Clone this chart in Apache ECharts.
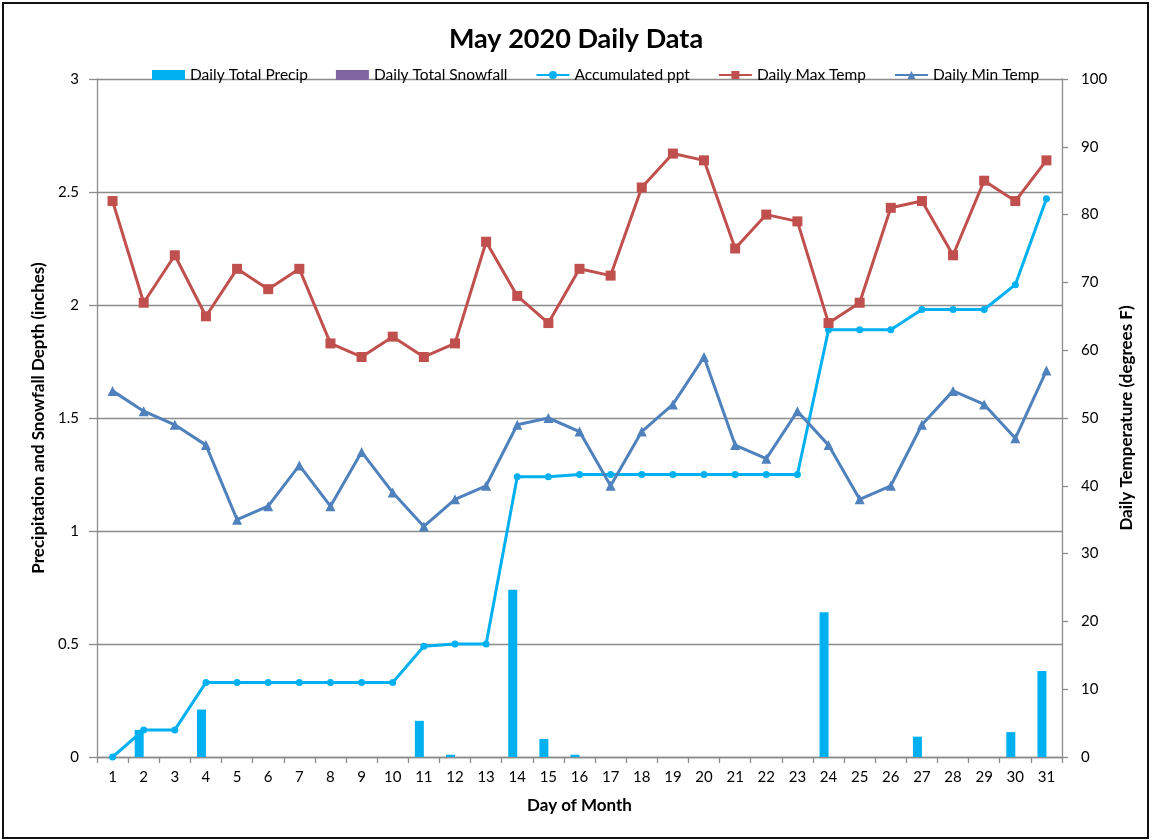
<!DOCTYPE html>
<html>
<head>
<meta charset="utf-8">
<script src="https://cdn.jsdelivr.net/npm/echarts@6/dist/echarts.min.js"></script>
<style>
html,body{margin:0;padding:0;background:#fff;}
#chart{width:1152px;height:840px;}
</style>
</head>
<body>
<div id="chart"></div>
<script>
const days = ['1','2','3','4','5','6','7','8','9','10','11','12','13','14','15','16','17','18','19','20','21','22','23','24','25','26','27','28','29','30','31'];
const dailyPrecip = [0,0.12,0,0.21,0,0,0,0,0,0,0.16,0.01,0,0.74,0.08,0.01,0,0,0,0,0,0,0,0.64,0,0,0.09,0,0,0.11,0.38];
const dailySnowfall = [0,0,0,0,0,0,0,0,0,0,0,0,0,0,0,0,0,0,0,0,0,0,0,0,0,0,0,0,0,0,0];
const accumPpt = [0,0.12,0.12,0.33,0.33,0.33,0.33,0.33,0.33,0.33,0.49,0.50,0.50,1.24,1.24,1.25,1.25,1.25,1.25,1.25,1.25,1.25,1.25,1.89,1.89,1.89,1.98,1.98,1.98,2.09,2.47];
const maxTemp = [82,67,74,65,72,69,72,61,59,62,59,61,76,68,64,72,71,84,89,88,75,80,79,64,67,81,82,74,85,82,88];
const minTemp = [54,51,49,46,35,37,43,37,45,39,34,38,40,49,50,48,40,48,52,59,46,44,51,46,38,40,49,54,52,47,57];

const FONT = 'Lato, "Open Sans", sans-serif';
const chart = echarts.init(document.getElementById('chart'));
const axisLineStyle = {color:'#8c8c8c', width:1.3};
chart.setOption({
  animation:false,
  backgroundColor:'#fff',
  graphic:[{type:'rect', shape:{x:3,y:3,width:1145,height:835}, style:{fill:'none', stroke:'#111', lineWidth:2}, silent:true}],
  title:{text:'May 2020 Daily Data', left:'center', top:21, textStyle:{fontFamily:FONT, fontSize:27, fontWeight:'bold', color:'#000'}},
  legend:{top:62, left:147, itemGap:28, itemWidth:33, itemHeight:10, textStyle:{fontFamily:FONT, fontSize:15.5, color:'#000'},
    data:[{name:'Daily Total Precip', icon:'rect'},{name:'Daily Total Snowfall', icon:'rect'},'Accumulated ppt','Daily Max Temp','Daily Min Temp']},
  grid:{left:97, right:90, top:79, bottom:83},
  xAxis:{type:'category', data:days, boundaryGap:true,
    name:'Day of Month', nameLocation:'middle', nameGap:40, nameTextStyle:{fontFamily:FONT, fontSize:17, fontWeight:'bold', color:'#000'},
    axisLine:{lineStyle:axisLineStyle}, axisTick:{show:true, alignWithLabel:false, length:6, lineStyle:axisLineStyle},
    axisLabel:{fontFamily:FONT, fontSize:15, color:'#000', margin:13, interval:0}},
  yAxis:[{type:'value', min:0, max:3, interval:0.5, position:'left',
      name:'Precipitation and Snowfall Depth (inches)', nameLocation:'middle', nameGap:49, nameRotate:90,
      nameTextStyle:{fontFamily:FONT, fontSize:17, fontWeight:'bold', color:'#000'},
      axisLine:{show:true, lineStyle:axisLineStyle}, axisTick:{show:true, length:8, lineStyle:axisLineStyle},
      axisLabel:{fontFamily:FONT, fontSize:15, color:'#000', margin:18},
      splitLine:{show:true, lineStyle:{color:'#8c8c8c', width:1.3}}},
    {type:'value', min:0, max:100, interval:10, position:'right',
      name:'Daily Temperature (degrees F)', nameLocation:'middle', nameGap:56, nameRotate:90,
      nameTextStyle:{fontFamily:FONT, fontSize:17, fontWeight:'bold', color:'#000'},
      axisLine:{show:true, lineStyle:axisLineStyle}, axisTick:{show:true, length:6, lineStyle:axisLineStyle},
      axisLabel:{fontFamily:FONT, fontSize:15, color:'#000', margin:19},
      splitLine:{show:false}}],
  series:[
    {name:'Daily Total Precip', type:'bar', data:dailyPrecip, barWidth:9, barGap:'0%', itemStyle:{color:'#00B0F0'}, yAxisIndex:0},
    {name:'Daily Total Snowfall', type:'bar', data:dailySnowfall, barWidth:9, itemStyle:{color:'#8064A2'}, yAxisIndex:0},
    {name:'Accumulated ppt', type:'line', data:accumPpt, yAxisIndex:0, symbol:'circle', symbolSize:7, lineStyle:{color:'#00B0F0', width:3}, itemStyle:{color:'#00B0F0'}},
    {name:'Daily Max Temp', type:'line', data:maxTemp, yAxisIndex:1, symbol:'rect', symbolSize:10, lineStyle:{color:'#C0504D', width:3}, itemStyle:{color:'#C0504D'}},
    {name:'Daily Min Temp', type:'line', data:minTemp, yAxisIndex:1, symbol:'triangle', symbolSize:10, lineStyle:{color:'#4F81BD', width:3}, itemStyle:{color:'#4F81BD'}}
  ]
});
</script>
</body>
</html>
